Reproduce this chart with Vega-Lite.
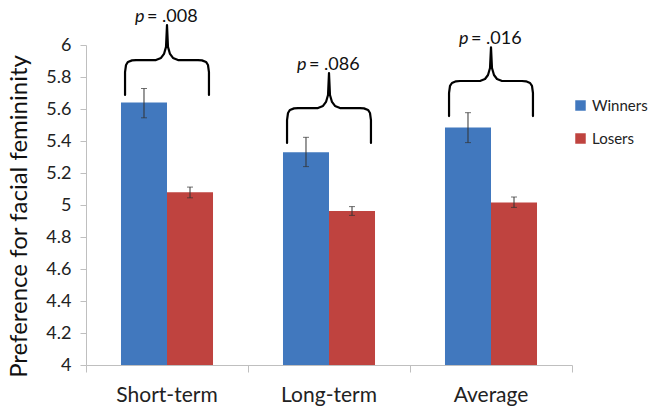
{
  "$schema": "https://vega.github.io/schema/vega-lite/v6.json",
  "width": 486,
  "height": 320,
  "autosize": {"type": "none"},
  "padding": {"left": 86, "top": 45, "right": 77, "bottom": 42},
  "background": "white",
  "config": {
    "view": {"stroke": null},
    "font": "Lato",
    "axisY": {
      "titleFontSize": 24,
      "titleFontWeight": "normal",
      "titleColor": "#111111",
      "titleFont": "Lato",
      "titlePadding": 14,
      "titleY": 171,
      "tickCount": 10,
      "labelFontSize": 18,
      "labelColor": "#222222",
      "labelFont": "Lato",
      "labelPadding": 9,
      "tickSize": 6,
      "tickColor": "#bfbfbf",
      "domainColor": "#bfbfbf",
      "grid": false
    },
    "legend": {
      "orient": "none",
      "legendX": 487,
      "legendY": 53,
      "symbolType": "square",
      "symbolSize": 110,
      "symbolStrokeWidth": 0,
      "labelFontSize": 15,
      "labelColor": "#222222",
      "labelFont": "Lato",
      "rowPadding": 17,
      "title": null,
      "padding": 0
    }
  },
  "datasets": {
    "bars": [
      {"term": "Short-term", "group": "Winners", "mean": 5.64, "lo": 5.545, "hi": 5.728},
      {"term": "Short-term", "group": "Losers", "mean": 5.08, "lo": 5.045, "hi": 5.112},
      {"term": "Long-term", "group": "Winners", "mean": 5.33, "lo": 5.24, "hi": 5.423},
      {"term": "Long-term", "group": "Losers", "mean": 4.962, "lo": 4.935, "hi": 4.99},
      {"term": "Average", "group": "Winners", "mean": 5.485, "lo": 5.39, "hi": 5.577},
      {"term": "Average", "group": "Losers", "mean": 5.015, "lo": 4.985, "hi": 5.05}
    ],
    "braces": [
      {"b": "Short-term", "o": 1, "x": 0.241, "y": 5.6875},
      {"b": "Short-term", "o": 2, "x": 0.241, "y": 5.831},
      {"b": "Short-term", "o": 3, "x": 0.247, "y": 5.875},
      {"b": "Short-term", "o": 4, "x": 0.259, "y": 5.894},
      {"b": "Short-term", "o": 5, "x": 0.284, "y": 5.904},
      {"b": "Short-term", "o": 6, "x": 0.309, "y": 5.906},
      {"b": "Short-term", "o": 7, "x": 0.432, "y": 5.906},
      {"b": "Short-term", "o": 8, "x": 0.463, "y": 5.919},
      {"b": "Short-term", "o": 9, "x": 0.4815, "y": 5.944},
      {"b": "Short-term", "o": 10, "x": 0.494, "y": 5.988},
      {"b": "Short-term", "o": 11, "x": 0.5, "y": 6.125},
      {"b": "Short-term", "o": 12, "x": 0.506, "y": 5.988},
      {"b": "Short-term", "o": 13, "x": 0.5185, "y": 5.944},
      {"b": "Short-term", "o": 14, "x": 0.537, "y": 5.919},
      {"b": "Short-term", "o": 15, "x": 0.568, "y": 5.906},
      {"b": "Short-term", "o": 16, "x": 0.691, "y": 5.906},
      {"b": "Short-term", "o": 17, "x": 0.716, "y": 5.904},
      {"b": "Short-term", "o": 18, "x": 0.741, "y": 5.894},
      {"b": "Short-term", "o": 19, "x": 0.753, "y": 5.875},
      {"b": "Short-term", "o": 20, "x": 0.759, "y": 5.831},
      {"b": "Short-term", "o": 21, "x": 0.759, "y": 5.6875},
      {"b": "Long-term", "o": 1, "x": 1.241, "y": 5.3875},
      {"b": "Long-term", "o": 2, "x": 1.241, "y": 5.531},
      {"b": "Long-term", "o": 3, "x": 1.247, "y": 5.575},
      {"b": "Long-term", "o": 4, "x": 1.259, "y": 5.594},
      {"b": "Long-term", "o": 5, "x": 1.284, "y": 5.604},
      {"b": "Long-term", "o": 6, "x": 1.309, "y": 5.606},
      {"b": "Long-term", "o": 7, "x": 1.432, "y": 5.606},
      {"b": "Long-term", "o": 8, "x": 1.463, "y": 5.619},
      {"b": "Long-term", "o": 9, "x": 1.4815, "y": 5.644},
      {"b": "Long-term", "o": 10, "x": 1.494, "y": 5.6875},
      {"b": "Long-term", "o": 11, "x": 1.5, "y": 5.825},
      {"b": "Long-term", "o": 12, "x": 1.506, "y": 5.6875},
      {"b": "Long-term", "o": 13, "x": 1.5185, "y": 5.644},
      {"b": "Long-term", "o": 14, "x": 1.537, "y": 5.619},
      {"b": "Long-term", "o": 15, "x": 1.568, "y": 5.606},
      {"b": "Long-term", "o": 16, "x": 1.691, "y": 5.606},
      {"b": "Long-term", "o": 17, "x": 1.716, "y": 5.604},
      {"b": "Long-term", "o": 18, "x": 1.741, "y": 5.594},
      {"b": "Long-term", "o": 19, "x": 1.753, "y": 5.575},
      {"b": "Long-term", "o": 20, "x": 1.759, "y": 5.531},
      {"b": "Long-term", "o": 21, "x": 1.759, "y": 5.3875},
      {"b": "Average", "o": 1, "x": 2.241, "y": 5.556},
      {"b": "Average", "o": 2, "x": 2.241, "y": 5.7},
      {"b": "Average", "o": 3, "x": 2.247, "y": 5.744},
      {"b": "Average", "o": 4, "x": 2.259, "y": 5.7625},
      {"b": "Average", "o": 5, "x": 2.284, "y": 5.773},
      {"b": "Average", "o": 6, "x": 2.309, "y": 5.775},
      {"b": "Average", "o": 7, "x": 2.432, "y": 5.775},
      {"b": "Average", "o": 8, "x": 2.463, "y": 5.7875},
      {"b": "Average", "o": 9, "x": 2.4815, "y": 5.8125},
      {"b": "Average", "o": 10, "x": 2.494, "y": 5.856},
      {"b": "Average", "o": 11, "x": 2.5, "y": 5.985},
      {"b": "Average", "o": 12, "x": 2.506, "y": 5.856},
      {"b": "Average", "o": 13, "x": 2.5185, "y": 5.8125},
      {"b": "Average", "o": 14, "x": 2.537, "y": 5.7875},
      {"b": "Average", "o": 15, "x": 2.568, "y": 5.775},
      {"b": "Average", "o": 16, "x": 2.691, "y": 5.775},
      {"b": "Average", "o": 17, "x": 2.716, "y": 5.773},
      {"b": "Average", "o": 18, "x": 2.741, "y": 5.7625},
      {"b": "Average", "o": 19, "x": 2.753, "y": 5.744},
      {"b": "Average", "o": 20, "x": 2.759, "y": 5.7},
      {"b": "Average", "o": 21, "x": 2.759, "y": 5.556}
    ],
    "pvals": [
      {"x": 0.5, "y": 6.125, "p": "p", "rest": "= .008"},
      {"x": 1.5, "y": 5.825, "p": "p", "rest": "= .086"},
      {"x": 2.5, "y": 5.985, "p": "p", "rest": "= .016"}
    ]
  },
  "layer": [
    {
      "data": {"name": "bars"},
      "encoding": {
        "x": {
          "field": "term",
          "type": "nominal",
          "sort": ["Short-term", "Long-term", "Average"],
          "scale": {"paddingInner": 0.432, "paddingOuter": 0.216},
          "axis": {
            "title": null,
            "orient": "bottom",
            "labelAngle": 0,
            "labelFontSize": 21,
            "labelColor": "#222222",
            "labelFont": "Lato",
            "ticks": false,
            "tickSize": 0,
            "labelPadding": 19,
            "domainColor": "#bfbfbf",
            "domainWidth": 1,
            "grid": false
          }
        },
        "xOffset": {
          "field": "group",
          "type": "nominal",
          "sort": ["Winners", "Losers"],
          "scale": {"paddingInner": 0, "paddingOuter": 0}
        }
      },
      "layer": [
        {
          "mark": {"type": "bar"},
          "encoding": {
            "y": {
              "field": "mean",
              "type": "quantitative",
              "scale": {"domain": [4, 6], "nice": false, "zero": false},
              "title": "Preference for facial femininity",
              "axis": {"format": "~g", "orient": "left"}
            },
            "y2": {"datum": 4},
            "color": {
              "field": "group",
              "type": "nominal",
              "scale": {"domain": ["Winners", "Losers"], "range": ["#4178BE", "#BF433F"]},
              "legend": {"title": null}
            }
          }
        },
        {
          "mark": {"type": "rule", "color": "#333333", "strokeWidth": 1},
          "encoding": {
            "y": {"field": "lo", "type": "quantitative", "scale": {"domain": [4, 6], "nice": false, "zero": false}, "title": "Preference for facial femininity", "axis": {"format": "~g", "orient": "left"}},
            "y2": {"field": "hi"}
          }
        },
        {
          "mark": {"type": "tick", "color": "#333333", "size": 6, "thickness": 1},
          "encoding": {
            "y": {"field": "lo", "type": "quantitative", "scale": {"domain": [4, 6], "nice": false, "zero": false}, "title": "Preference for facial femininity", "axis": {"format": "~g", "orient": "left"}}
          }
        },
        {
          "mark": {"type": "tick", "color": "#333333", "size": 6, "thickness": 1},
          "encoding": {
            "y": {"field": "hi", "type": "quantitative", "scale": {"domain": [4, 6], "nice": false, "zero": false}, "title": "Preference for facial femininity", "axis": {"format": "~g", "orient": "left"}}
          }
        }
      ]
    },
    {
      "encoding": {
        "x": {
          "field": "x",
          "type": "quantitative",
          "scale": {"domain": [0, 3], "nice": false, "zero": false},
          "axis": {
            "orient": "bottom",
            "values": [0, 1, 2, 3],
            "labels": false,
            "domain": false,
            "ticks": true,
            "tickSize": 7,
            "tickColor": "#bfbfbf",
            "title": null,
            "grid": false
          }
        }
      },
      "layer": [
        {
          "data": {"name": "braces"},
          "mark": {"type": "line", "color": "#000000", "strokeWidth": 2.2, "strokeCap": "round", "strokeJoin": "round"},
          "encoding": {
            "y": {"field": "y", "type": "quantitative", "scale": {"domain": [4, 6], "nice": false, "zero": false}, "title": "Preference for facial femininity", "axis": {"format": "~g", "orient": "left"}},
            "detail": {"field": "b", "type": "nominal"},
            "order": {"field": "o", "type": "quantitative"}
          }
        },
        {
          "data": {"name": "pvals"},
          "mark": {"type": "text", "font": "Lato", "fontSize": 18, "fontStyle": "italic", "align": "left", "baseline": "alphabetic", "dx": -32, "dy": -3, "color": "#111111"},
          "encoding": {
            "y": {"field": "y", "type": "quantitative", "scale": {"domain": [4, 6], "nice": false, "zero": false}, "title": "Preference for facial femininity", "axis": {"format": "~g", "orient": "left"}},
            "text": {"field": "p"}
          }
        },
        {
          "data": {"name": "pvals"},
          "mark": {"type": "text", "font": "Lato", "fontSize": 18, "align": "left", "baseline": "alphabetic", "dx": -20, "dy": -3, "color": "#111111"},
          "encoding": {
            "y": {"field": "y", "type": "quantitative", "scale": {"domain": [4, 6], "nice": false, "zero": false}, "title": "Preference for facial femininity", "axis": {"format": "~g", "orient": "left"}},
            "text": {"field": "rest"}
          }
        }
      ]
    }
  ],
  "resolve": {"scale": {"x": "independent"}}
}
